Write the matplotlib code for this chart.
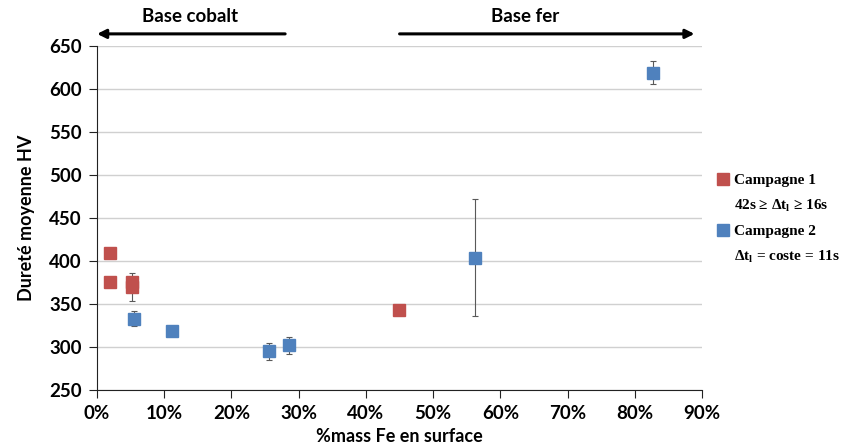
import matplotlib.pyplot as plt
from matplotlib.lines import Line2D

# Campagne 1 (red)
c1_fe = [0.019, 0.019, 0.052, 0.052, 0.45]
c1_hv = [409, 376, 375, 370, 343]
c1_err = [0, 0, 5, 16, 0]

# Campagne 2 (blue)
c2_fe = [0.055, 0.112, 0.256, 0.286, 0.563, 0.827]
c2_hv = [333, 318, 295, 302, 404, 619]
c2_err = [9, 0, 10, 10, 68, 13]

red = '#C0504D'
blue = '#4F81BD'

fig = plt.figure(figsize=(8.48, 4.48), dpi=100)
ax = fig.add_axes([0.1144, 0.1295, 0.7134, 0.768])

ax.errorbar(c1_fe, c1_hv, yerr=c1_err, fmt='s', color=red, ms=8.5,
            ecolor='#595959', elinewidth=0.8, capsize=2.5, capthick=0.8, zorder=3)
ax.errorbar(c2_fe, c2_hv, yerr=c2_err, fmt='s', color=blue, ms=8.5,
            ecolor='#595959', elinewidth=0.8, capsize=2.5, capthick=0.8, zorder=3)

ax.set_xlim(0, 0.9)
ax.set_ylim(250, 650)
ax.set_xticks([i / 10 for i in range(10)])
ax.set_xticklabels(['%d%%' % (i * 10) for i in range(10)])
ax.set_yticks(range(250, 651, 50))
ax.yaxis.grid(True, color='#d0d0d0', lw=1)
ax.set_axisbelow(True)
for s in ['top', 'right']:
    ax.spines[s].set_visible(False)
for s in ['left', 'bottom']:
    ax.spines[s].set_color('#222222')
ax.tick_params(direction='out', length=6, color='#222222', pad=5)

font = 'Lato'
for lab in ax.get_xticklabels() + ax.get_yticklabels():
    lab.set_family(font)
    lab.set_fontweight('bold')
    lab.set_fontsize(13.5)
ax.set_xlabel('%mass Fe en surface', family=font, fontweight='bold', fontsize=13, labelpad=4)
ax.set_ylabel('Dureté moyenne HV', family=font, fontweight='bold', fontsize=13, labelpad=10)

# arrows at the top
ax.annotate('', xy=(-0.004, 664), xytext=(0.284, 664), xycoords='data',
            arrowprops=dict(arrowstyle='-|>', color='black', lw=2.2, mutation_scale=13),
            annotation_clip=False)
ax.annotate('', xy=(0.893, 664), xytext=(0.446, 664), xycoords='data',
            arrowprops=dict(arrowstyle='-|>', color='black', lw=2.2, mutation_scale=13),
            annotation_clip=False)
ax.text(0.138, 684, 'Base cobalt', ha='center', va='center', family=font,
        fontweight='bold', fontsize=13.5, clip_on=False)
ax.text(0.637, 684, 'Base fer', ha='center', va='center', family=font,
        fontweight='bold', fontsize=13.5, clip_on=False)

handles = [Line2D([], [], marker='s', ls='', color=red, ms=8),
           Line2D([], [], ls='', marker=''),
           Line2D([], [], marker='s', ls='', color=blue, ms=8),
           Line2D([], [], ls='', marker='')]
labels = ['Campagne 1', r'42s ≥ Δt$_\mathregular{l}$ ≥ 16s',
          'Campagne 2', r'Δt$_\mathregular{l}$ = coste = 11s']
leg = fig.legend(handles, labels, loc='upper left', bbox_to_anchor=(0.838, 0.627),
                 frameon=False, handlelength=0.8, handletextpad=0.35,
                 labelspacing=0.68, borderaxespad=0,
                 prop={'family': 'Liberation Serif', 'weight': 'bold', 'size': 11})

fig.savefig('out.png', dpi=100)
